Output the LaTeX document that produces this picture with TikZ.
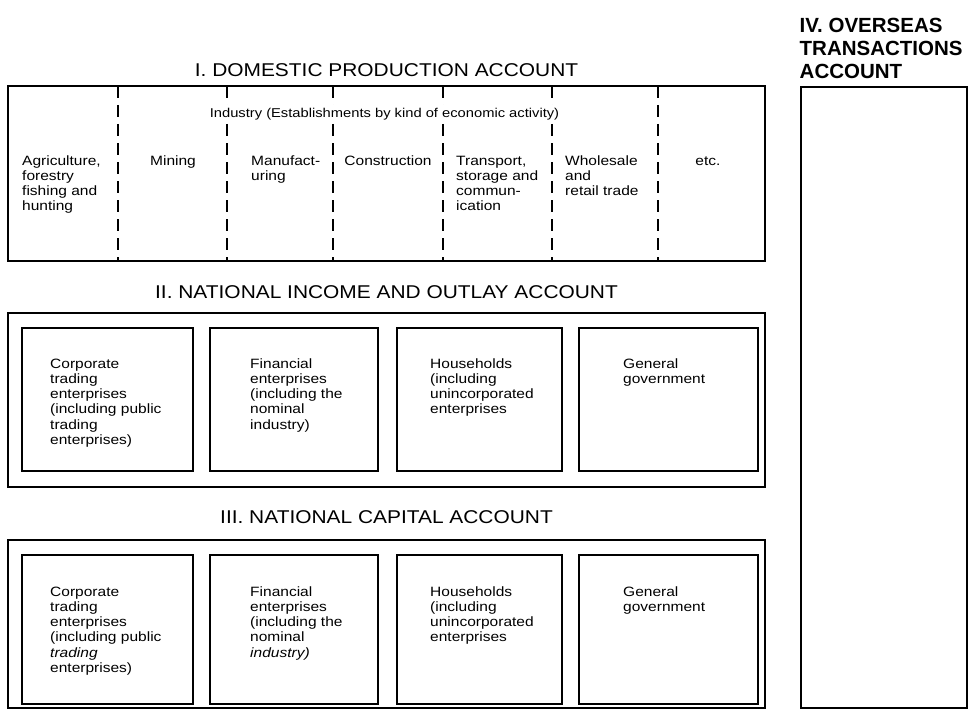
\documentclass[tikz,border=0pt]{standalone}
\usepackage{fontspec}
\setmainfont{Liberation Sans}[FakeStretch=1.15]
\newfontfamily\titlefont{Liberation Sans}[FakeStretch=1.13]
\newfontfamily\ivfont{Liberation Sans}
\begin{document}
\begin{tikzpicture}[x=1bp,y=-1bp,
  box/.style={draw, line width=1.8bp, anchor=north west, inner sep=0pt, outer sep=0pt},
  divider/.style={line width=1.6bp, dash pattern=on 12bp off 7bp},
  title/.style={font=\titlefont\fontsize{18.5bp}{22bp}\selectfont, inner sep=0pt},
  ivtitle/.style={font=\ivfont\bfseries\fontsize{20.5bp}{23.3bp}\selectfont, inner sep=0pt, align=left, anchor=north west},
  lbl/.style={align=left, inner sep=0pt, font=\fontsize{13.5bp}{15.2bp}\selectfont},
  indtext/.style={font=\fontsize{12.8bp}{15bp}\selectfont, fill=white, inner xsep=1bp, inner ysep=3bp, anchor=base}
]
\useasboundingbox (0,0) rectangle (969,711);

% ---- Titles
\node[title] (tI)   at (386.5,70)  {I. DOMESTIC PRODUCTION ACCOUNT};
\node[title] (tII)  at (386.5,292) {II. NATIONAL INCOME AND OUTLAY ACCOUNT};
\node[title] (tIII) at (386.5,517) {III. NATIONAL CAPITAL ACCOUNT};
\node[ivtitle] (tIV) at (799.5,15.7) {\strut IV. OVERSEAS\\TRANSACTIONS\\ACCOUNT};

% ---- Outer boxes
\node[box, minimum width=757bp, minimum height=175bp] (boxI)   at (8,86)  {};
\node[box, minimum width=757bp, minimum height=174bp] (boxII)  at (8,313) {};
\node[box, minimum width=757bp, minimum height=168bp] (boxIII) at (8,540) {};
\node[box, minimum width=166bp, minimum height=621bp] (boxIV)  at (801,87) {};

% ---- Inner boxes, account II
\node[box, minimum width=171bp, minimum height=143bp] (iiA) at (22,328)  {};
\node[box, minimum width=168bp, minimum height=143bp] (iiB) at (210,328) {};
\node[box, minimum width=165bp, minimum height=143bp] (iiC) at (397,328) {};
\node[box, minimum width=179bp, minimum height=143bp] (iiD) at (579,328) {};

% ---- Inner boxes, account III
\node[box, minimum width=171bp, minimum height=149bp] (iiiA) at (22,555)  {};
\node[box, minimum width=168bp, minimum height=149bp] (iiiB) at (210,555) {};
\node[box, minimum width=165bp, minimum height=149bp] (iiiC) at (397,555) {};
\node[box, minimum width=179bp, minimum height=149bp] (iiiD) at (579,555) {};

% ---- Dashed dividers in account I
\coordinate (d1) at (118,0);
\coordinate (d2) at (227,0);
\coordinate (d3) at (333,0);
\coordinate (d4) at (443,0);
\coordinate (d5) at (552,0);
\coordinate (d6) at (658,0);
\foreach \d in {d1,d2,d3,d4,d5,d6}
  \draw[divider] (boxI.north -| \d) -- (boxI.south -| \d);

\node[indtext] (industry) at (384.5,117.7) {Industry (Establishments by kind of economic activity)};

% ---- Labels, account I
\node[lbl, anchor=north west] (agri)   at (22,154.4)  {\strut Agriculture,\\forestry\\fishing and\\hunting};
\node[lbl, anchor=north]      (mining) at (173,154.4) {\strut Mining};
\node[lbl, anchor=north west] (manu)   at (251,154.4) {\strut Manufact-\\uring};
\node[lbl, anchor=north]      (constr) at (388,154.4) {\strut Construction};
\node[lbl, anchor=north west] (transp) at (456,154.4) {\strut Transport,\\storage and\\commun-\\ication};
\node[lbl, anchor=north west] (whole)  at (565,154.4) {\strut Wholesale\\and\\retail trade};
\node[lbl, anchor=north]      (etc)    at (708,154.4) {\strut etc.};

% ---- Labels, account II
\node[lbl, anchor=north west] (corpII) at (50,357.4)  {\strut Corporate\\trading\\enterprises\\(including public\\trading\\enterprises)};
\node[lbl, anchor=north west] (finII)  at (250,357.4) {\strut Financial\\enterprises\\(including the\\nominal\\industry)};
\node[lbl, anchor=north west] (hhII)   at (430,357.4) {\strut Households\\(including\\unincorporated\\enterprises};
\node[lbl, anchor=north west] (govII)  at (623,357.4) {\strut General\\government};

% ---- Labels, account III
\node[lbl, anchor=north west] (corpIII) at (50,585.4)  {\strut Corporate\\trading\\enterprises\\(including public\\\textit{trading}\\enterprises)};
\node[lbl, anchor=north west] (finIII)  at (250,585.4) {\strut Financial\\enterprises\\(including the\\nominal\\\textit{industry)}};
\node[lbl, anchor=north west] (hhIII)   at (430,585.4) {\strut Households\\(including\\unincorporated\\enterprises};
\node[lbl, anchor=north west] (govIII)  at (623,585.4) {\strut General\\government};
\end{tikzpicture}
\end{document}
